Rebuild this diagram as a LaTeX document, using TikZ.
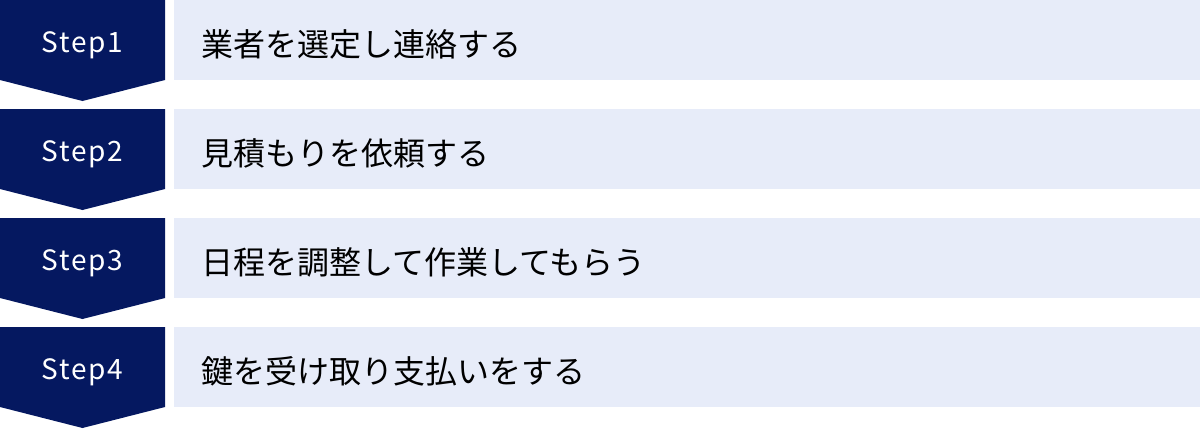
\documentclass[tikz,border=0pt]{standalone}
\usepackage{fontspec}
\setmainfont{Noto Sans CJK JP}
\newfontfamily\stepfont[LetterSpace=6]{Noto Sans CJK JP}
\usepackage{tikz}
\usetikzlibrary{calc}
\usepackage{xcolor}
\definecolor{stepnavy}{RGB}{5,24,96}
\definecolor{steplight}{RGB}{231,236,249}
\tikzset{
  steplabel/.style={text=white, anchor=base, inner sep=0pt, font=\stepfont\fontsize{28}{28}\selectfont},
  taskbox/.style={fill=steplight, anchor=north west, inner sep=0pt, minimum width=1026pt, minimum height=80pt},
  tasktext/.style={anchor=west, inner sep=0pt, font=\fontsize{32}{32}\selectfont}
}

\begin{document}
\begin{tikzpicture}[x=1pt, y=-1pt]
    \useasboundingbox (0,0) rectangle (1200,429);
    \foreach \i/\task in {1/業者を選定し連絡する, 2/見積もりを依頼する, 3/日程を調整して作業してもらう, 4/鍵を受け取り支払いをする}{
        \pgfmathsetmacro{\rowtop}{(\i-1)*109}
        \fill[stepnavy] (0,\rowtop) -- ++(165,0) -- ++(0,80) -- ++(-82.5,21) -- ++(-82.5,-21) -- cycle;
        \node[steplabel] (step\i) at (82.5,\rowtop+52) {Step\i};
        \node[taskbox] (box\i) at (174,\rowtop) {};
        \node[tasktext] (task\i) at (201,\rowtop+44) {\task};
    }
\end{tikzpicture}
\end{document}
